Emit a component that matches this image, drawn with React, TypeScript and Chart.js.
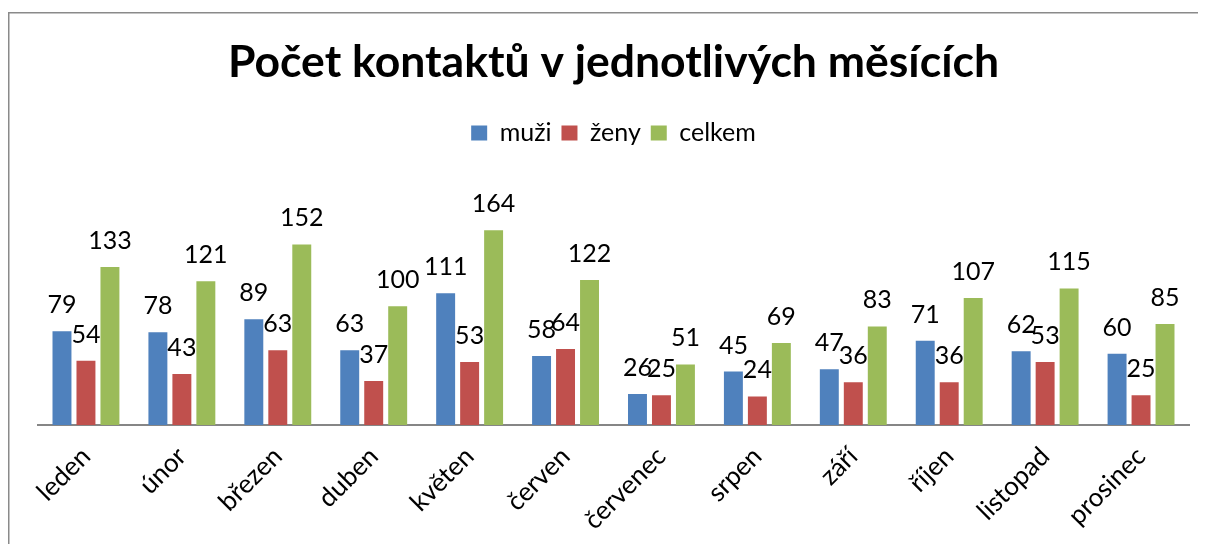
import React, { useEffect, useRef } from "react";
import { Chart, registerables } from "chart.js";

Chart.register(...registerables);

const months = ["leden", "únor", "březen", "duben", "květen", "červen", "červenec", "srpen", "září", "říjen", "listopad", "prosinec"];
const muzi = [79, 78, 89, 63, 111, 58, 26, 45, 47, 71, 62, 60];
const zeny = [54, 43, 63, 37, 53, 64, 25, 24, 36, 36, 53, 25];
const celkem = [133, 121, 152, 100, 164, 122, 51, 69, 83, 107, 115, 85];

const FONT = "Lato, 'Open Sans', sans-serif";

const framePlugin = {
  id: "frame",
  beforeDraw(chart: any) {
    const ctx = chart.ctx;
    ctx.save();
    ctx.fillStyle = "#ffffff";
    ctx.fillRect(0, 0, chart.width, chart.height);
    ctx.strokeStyle = "#8a8a8a";
    ctx.lineWidth = 1.5;
    ctx.beginPath();
    ctx.moveTo(chart.width, 4.75);
    ctx.lineTo(0.75, 4.75);
    ctx.lineTo(0.75, chart.height);
    ctx.stroke();
    ctx.restore();
  },
};

const labelPlugin = {
  id: "valueLabels",
  afterDatasetsDraw(chart: any) {
    const ctx = chart.ctx;
    ctx.save();
    ctx.font = `25px ${FONT}`;
    ctx.fillStyle = "#000000";
    ctx.textAlign = "center";
    ctx.textBaseline = "alphabetic";
    chart.data.datasets.forEach((ds: any, i: number) => {
      const meta = chart.getDatasetMeta(i);
      meta.data.forEach((bar: any, j: number) => {
        ctx.fillText(String(ds.data[j]), bar.x, bar.y - 18);
      });
    });
    ctx.restore();
  },
};

export default function App() {
  const ref = useRef<HTMLCanvasElement>(null);
  useEffect(() => {
    if (!ref.current) return;
    const chart = new Chart(ref.current, {
      type: "bar",
      data: {
        labels: months,
        datasets: [
          { label: "muži", data: muzi, backgroundColor: "#4F81BD" },
          { label: "ženy", data: zeny, backgroundColor: "#C0504D" },
          { label: "celkem", data: celkem, backgroundColor: "#9BBB59" },
        ],
      },
      options: {
        animation: false,
        responsive: false,
        maintainAspectRatio: false,
        layout: { padding: { left: 30, right: 17, top: 0, bottom: 0 } },
        datasets: { bar: { categoryPercentage: 0.75, barPercentage: 0.79 } },
        plugins: {
          tooltip: { enabled: false },
          title: {
            display: true,
            text: "Počet kontaktů v jednotlivých měsících",
            color: "#000000",
            font: { family: FONT, size: 44.5, weight: "bold", lineHeight: 1.2 },
            padding: { top: 28, bottom: 21 },
          },
          legend: {
            display: true,
            position: "top",
            labels: {
              color: "#000000",
              font: { family: FONT, size: 25 },
              boxWidth: 16,
              boxHeight: 15,
              padding: 10,
            },
          },
        },
        scales: {
          x: {
            grid: { display: false, drawTicks: false },
            border: { display: true, color: "#868686", width: 2 },
            ticks: {
              color: "#000000",
              font: { family: FONT, size: 26 },
              minRotation: 45,
              maxRotation: 45,
              padding: 16,
            },
            afterFit(scale: any) {
              scale.height = 119;
            },
          },
          y: {
            display: false,
            min: 0,
            max: 227,
          },
        },
      },
      plugins: [framePlugin, labelPlugin],
    });
    return () => chart.destroy();
  }, []);
  return <canvas ref={ref} width={1198} height={536} style={{ display: "block", width: 1198, height: 536 }} />;
}
